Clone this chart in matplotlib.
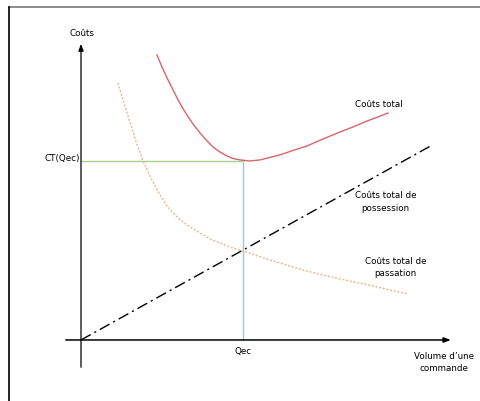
import matplotlib
matplotlib.use("Agg")
import matplotlib.pyplot as plt

plt.rcParams["font.family"] = ["Liberation Sans Narrow", "DejaVu Sans"]

# Qec = 10 on x, CT(Qec) = 10 on y
q_ec = 10.0
ct_ec = 10.0

# Coûts total
total_x = [4.69, 5.00, 5.31, 5.62, 5.93, 6.23, 6.54, 6.91, 7.35, 7.78, 8.15,
           8.58, 9.01, 9.38, 9.81, 10.43, 11.05, 11.67, 12.28, 13.09, 13.95,
           14.94, 15.99, 16.79, 17.65, 18.33, 18.95]
total_y = [15.92, 15.25, 14.64, 14.08, 13.52, 13.02, 12.57, 12.07, 11.56,
           11.12, 10.78, 10.50, 10.28, 10.14, 10.06, 10.00, 10.06, 10.20,
           10.34, 10.59, 10.84, 11.23, 11.62, 11.90, 12.23, 12.46, 12.68]

# Coûts total de passation
pass_x = [2.28, 2.65, 3.02, 3.40, 3.83, 4.14, 4.44, 4.88, 5.31, 5.80, 6.30,
          6.73, 7.35, 7.96, 8.58, 9.26, 10.00, 10.93, 11.85, 12.90, 13.95,
          14.94, 15.99, 17.04, 18.02, 19.07, 20.19]
pass_y = [14.36, 13.24, 12.18, 11.06, 10.00, 9.39, 8.83, 8.10, 7.49, 6.98,
          6.59, 6.31, 5.98, 5.64, 5.42, 5.17, 4.97, 4.69, 4.41, 4.13, 3.85,
          3.63, 3.41, 3.21, 3.02, 2.79, 2.57]

# Coûts total de possession
poss_x = [0.0, 21.7]
poss_y = [0.0, 10.9]

fig = plt.figure(figsize=(4.81, 4.02), dpi=100)
ax = fig.add_axes([0, 0, 1, 1])
ax.set_xlim(-5.0, 24.69)
ax.set_ylim(-3.41, 19.05)
ax.axis("off")

# frame of the screenshot
ax.plot([-4.44, 24.69], [18.6, 18.6], color="#777777", lw=1.2)
ax.plot([-4.44, -4.44], [-3.41, 18.6], color="black", lw=1.2)

# axes with arrows
ax.annotate("", xy=(23.0, 0), xytext=(-1.11, 0),
            arrowprops=dict(arrowstyle="-|>,head_length=0.4,head_width=0.15",
                            color="black", lw=1.1))
ax.annotate("", xy=(0, 16.7), xytext=(0, -1.68),
            arrowprops=dict(arrowstyle="-|>,head_length=0.4,head_width=0.15",
                            color="black", lw=0.9))

ax.plot([0, q_ec], [ct_ec, ct_ec], color="#a9d18e", lw=1.0)
ax.plot([q_ec, q_ec], [0, ct_ec], color="#9dc3e6", lw=1.0)

ax.plot(total_x, total_y, color="#d9636b", lw=1.0)
ax.plot(pass_x, pass_y, color="#e3b98f", lw=1.0, linestyle=(0, (1.5, 1.2)))
ax.plot(poss_x, poss_y, color="black", lw=1.0, linestyle=(0, (8, 3, 1.5, 3)))

fs = 6.3
ax.text(0.05, 17.2, "Coûts", ha="center", va="center", fontsize=fs)
ax.text(-0.05, 10.2, "CT(Qec)", ha="right", va="center", fontsize=fs)
ax.text(q_ec, -0.6, "Qec", ha="center", va="center", fontsize=fs)
ax.text(22.4, -1.2, "Volume d\u2019une\ncommande", ha="center", va="center",
        fontsize=fs, linespacing=1.5)
ax.text(18.4, 13.2, "Coûts total", ha="center", va="center", fontsize=fs)
ax.text(18.8, 7.76, "Coûts total de\npossession", ha="center", va="center",
        fontsize=fs, linespacing=1.5)
ax.text(19.4, 4.1, "Coûts total de\npassation", ha="center", va="center",
        fontsize=fs, linespacing=1.5)

fig.savefig("out.png", dpi=100)
